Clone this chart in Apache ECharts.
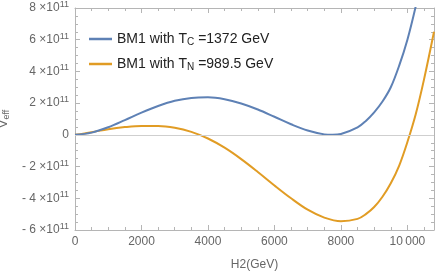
<!DOCTYPE html>
<html><head><meta charset="utf-8">
<script src="https://cdn.jsdelivr.net/npm/echarts@6/dist/echarts.min.js"></script>
<style>html,body{margin:0;padding:0;background:#fff}#c{width:436px;height:272px}</style>
</head><body><div id="c"></div>
<script>
// H2 (GeV) sample positions and potential values (units of 1e11)
var bm1TcX = [0,500,1000,1500,2000,2500,3000,3500,4000,4500,5000,5500,6000,6500,7000,7500,7750,8000,8500,8750,9000,9250,9500,9750,10000,10250,10400];
var bm1TcV = [0,0.14,0.48,0.93,1.40,1.82,2.15,2.33,2.37,2.25,1.98,1.60,1.14,0.67,0.27,0.03,0.00,0.05,0.47,0.88,1.42,2.10,3.00,4.35,6.00,8.10,9.60];
var bm1TnX = [0,500,1000,1500,2000,2500,3000,3500,4000,4500,5000,5500,6000,6500,7000,7500,8000,8500,8750,9000,9250,9500,9750,10000,10250,10500,10800];
var bm1TnV = [0,0.17,0.36,0.49,0.56,0.56,0.45,0.19,-0.23,-0.81,-1.53,-2.34,-3.19,-4.00,-4.72,-5.22,-5.45,-5.30,-5.00,-4.55,-3.90,-3.05,-1.95,-0.45,1.30,3.50,6.50];
var xTickLabels = {0:'0',2000:'2000',4000:'4000',6000:'6000',8000:'8000',10000:'10\u2009000'};
var yTickMant = {'-6':'- 6','-4':'- 4','-2':'- 2','0':'0','2':'2','4':'4','6':'6','8':'8'};
var seriesNames = ['BM1 with T_C =1372 GeV','BM1 with T_N =989.5 GeV'];
var legendRich = ['{t|BM1 with T}{s|C}{t| =1372 GeV}','{t|BM1 with T}{s|N}{t| =989.5 GeV}'];

function pairs(xs, vs){ return xs.map(function(x,i){return [x, vs[i]];}); }

var frame = '#b5b5b5';
var labCol = '#666666';
var font = 'Liberation Sans, Arial, sans-serif';

var chart = echarts.init(document.getElementById('c'), null, {renderer:'canvas'});
var xBase = {
  type:'value', min:0, max:10800, interval:2000,
  axisLine:{show:true, onZero:false, lineStyle:{color:frame, width:1}},
  axisTick:{show:true, inside:true, length:5, lineStyle:{color:frame}},
  minorTick:{show:true, splitNumber:4, length:3, lineStyle:{color:frame}},
  splitLine:{show:false}
};
var yBase = {
  type:'value', min:-6, max:8, interval:2,
  axisLine:{show:true, onZero:false, lineStyle:{color:frame, width:1}},
  axisTick:{show:true, inside:true, length:5, lineStyle:{color:frame}},
  minorTick:{show:true, splitNumber:4, length:3, lineStyle:{color:frame}},
  splitLine:{show:false}
};
chart.setOption({
  animation:false,
  backgroundColor:'#fff',
  grid:{left:75, right:2, top:8, bottom:42, containLabel:false, outerBoundsMode:'none'},
  legend:{
    orient:'vertical', left:84, top:27, itemGap:10,
    icon:'rect', itemWidth:23, itemHeight:2.5,
    data:seriesNames,
    formatter:function(n){ return legendRich[seriesNames.indexOf(n)]; },
    textStyle:{
      fontFamily:font, fontSize:14, color:'#222',
      rich:{
        t:{fontFamily:font, fontSize:14, color:'#222'},
        s:{fontFamily:font, fontSize:10, color:'#222', padding:[6,0,0,0]}
      }
    }
  },
  xAxis:[
    Object.assign({}, xBase, {
      position:'bottom',
      name:'H2(GeV)', nameLocation:'middle', nameGap:29,
      nameTextStyle:{fontFamily:font, fontSize:12, color:labCol},
      axisLabel:{show:true, margin:6, fontFamily:font, fontSize:12, color:labCol,
        showMaxLabel:false,
        formatter:function(v){ return xTickLabels.hasOwnProperty(v) ? xTickLabels[v] : ''; }}
    }),
    Object.assign({}, xBase, {position:'top', axisLabel:{show:false}})
  ],
  yAxis:[
    Object.assign({}, yBase, {
      position:'left',
      name:'{v|V}{e|eff}', nameLocation:'middle', nameGap:58, nameRotate:90,
      nameTextStyle:{fontFamily:font, fontSize:12, color:labCol,
        rich:{v:{fontFamily:font, fontSize:13, color:labCol}, e:{fontFamily:font, fontSize:9, color:labCol, padding:[6,0,0,0]}}},
      axisLabel:{show:true, margin:6, fontFamily:font, fontSize:12, color:labCol,
        formatter:function(v){
          var k = String(Math.round(v));
          if (k === '0') return '{a|0}';
          return '{a|' + yTickMant[k] + ' \u00d710}{s|11}';
        },
        rich:{
          a:{fontFamily:font, fontSize:12, color:labCol},
          s:{fontFamily:font, fontSize:9, color:labCol, padding:[0,0,7,0]}
        }}
    }),
    Object.assign({}, yBase, {position:'right', axisLabel:{show:false}})
  ],
  series:[
    {
      name:seriesNames[0], type:'line', xAxisIndex:0, yAxisIndex:0,
      data:pairs(bm1TcX, bm1TcV), smooth:0.35, showSymbol:false, symbol:'none', clip:true,
      lineStyle:{color:'#5E81B5', width:2}, itemStyle:{color:'#5E81B5'},
      markLine:{silent:true, symbol:'none', label:{show:false},
        lineStyle:{color:'#cfcfcf', width:1, type:'solid'}, data:[{yAxis:0}]},
      z:3
    },
    {
      name:seriesNames[1], type:'line', xAxisIndex:0, yAxisIndex:0,
      data:pairs(bm1TnX, bm1TnV), smooth:0.35, showSymbol:false, symbol:'none', clip:true,
      lineStyle:{color:'#E19C24', width:2}, itemStyle:{color:'#E19C24'},
      z:2
    }
  ]
});
</script></body></html>
